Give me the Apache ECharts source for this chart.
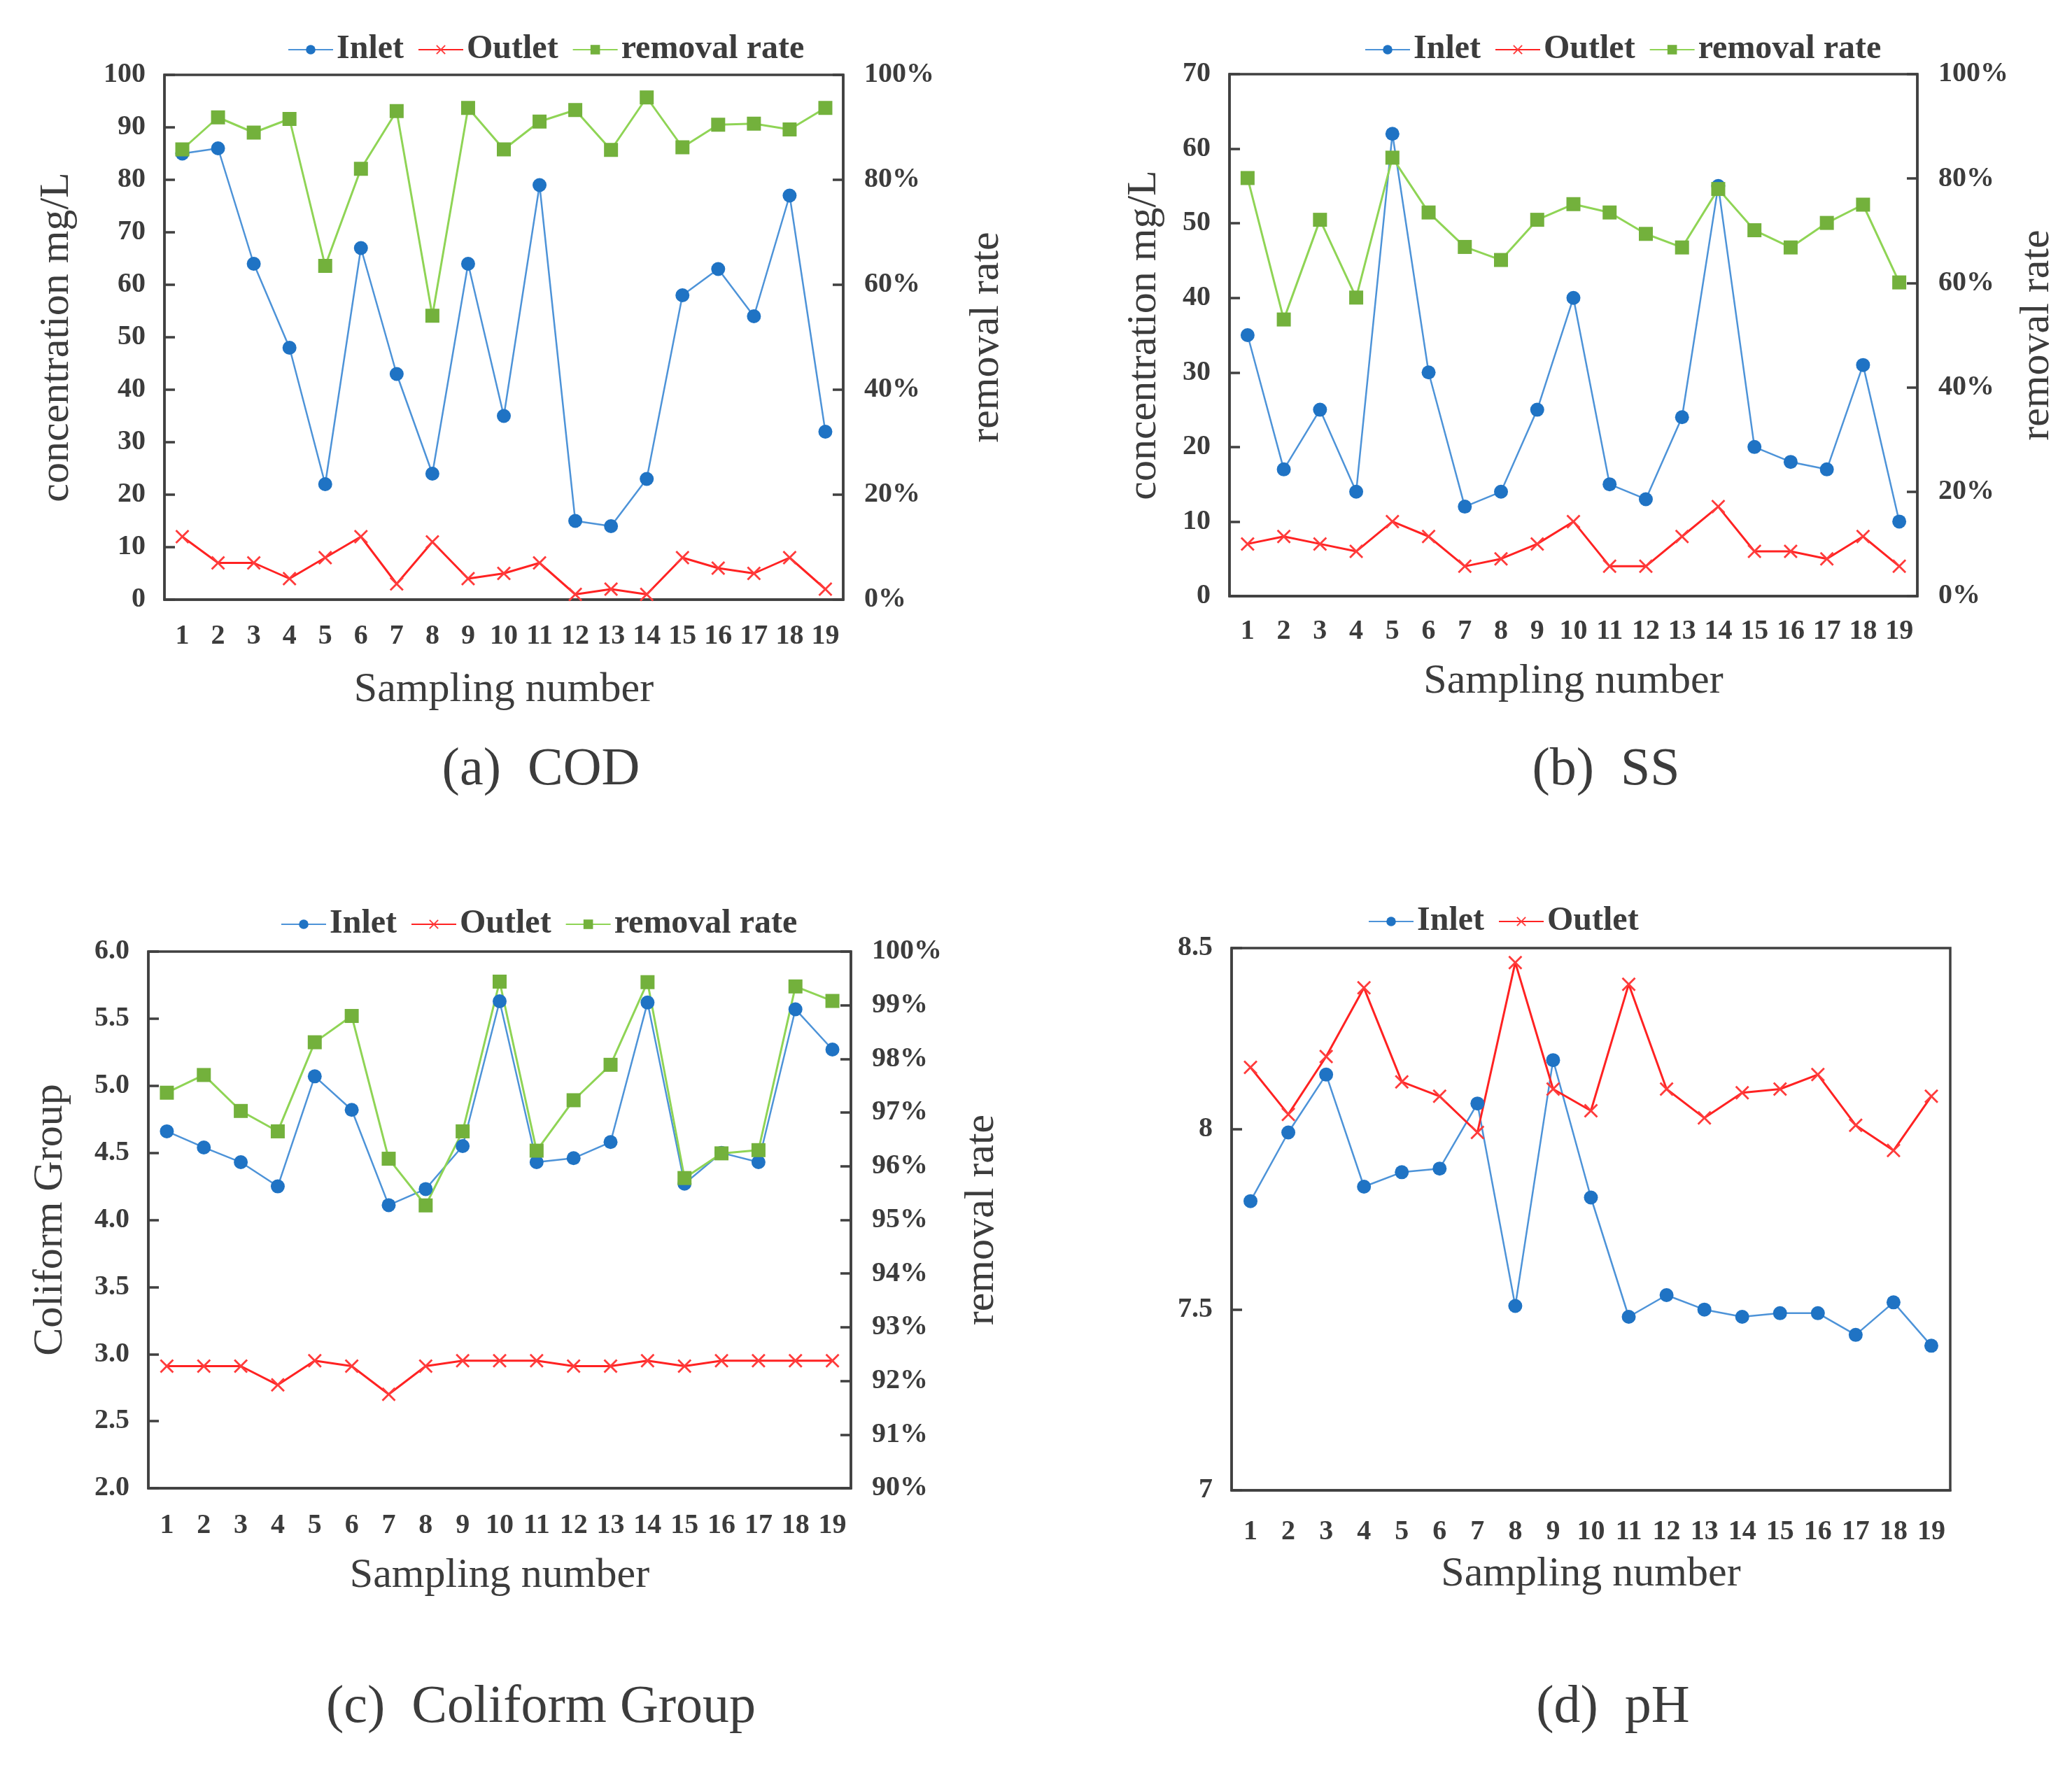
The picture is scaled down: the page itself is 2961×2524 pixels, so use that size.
<!DOCTYPE html>
<html>
<head>
<meta charset="utf-8">
<script src="https://cdn.jsdelivr.net/npm/echarts@6/dist/echarts.min.js"></script>
<style>
    html, body { margin: 0; padding: 0; background: #fff; }
    #my_chart { width: 2961px; height: 2524px; }
</style>
</head>
<body>
<div id="my_chart"></div>
<script>
// sampling numbers
var categories = ['1', '2', '3', '4', '5', '6', '7', '8', '9', '10', '11', '12', '13', '14', '15', '16', '17', '18', '19'];

// (a) COD
var codInlet = [85, 86, 64, 48, 22, 67, 43, 24, 64, 35, 79, 15, 14, 23, 58, 63, 54, 77, 32];
var codOutlet = [12, 7, 7, 4, 8, 12, 3, 11, 4, 5, 7, 1, 2, 1, 8, 6, 5, 8, 2];
var codRate = [85.8, 91.9, 89.0, 91.6, 63.6, 82.1, 93.1, 54.1, 93.7, 85.8, 91.1, 93.3, 85.7, 95.7, 86.2, 90.5, 90.7, 89.6, 93.7];

// (b) SS
var ssInlet = [35, 17, 25, 14, 62, 30, 12, 14, 25, 40, 15, 13, 24, 55, 20, 18, 17, 31, 10];
var ssOutlet = [7, 8, 7, 6, 10, 8, 4, 5, 7, 10, 4, 4, 8, 12, 6, 6, 5, 8, 4];
var ssRate = [80.1, 53.0, 72.1, 57.2, 84.0, 73.5, 66.9, 64.4, 72.1, 75.1, 73.5, 69.4, 66.8, 78.0, 70.1, 66.8, 71.5, 75.0, 60.1];

// (c) Coliform Group
var coliInlet = [4.66, 4.54, 4.43, 4.25, 5.07, 4.82, 4.11, 4.23, 4.55, 5.63, 4.43, 4.46, 4.58, 5.62, 4.27, 4.50, 4.43, 5.57, 5.27];
var coliOutlet = [2.91, 2.91, 2.91, 2.77, 2.95, 2.91, 2.70, 2.91, 2.95, 2.95, 2.95, 2.91, 2.91, 2.95, 2.91, 2.95, 2.95, 2.95, 2.95];
var coliRate = [97.37, 97.70, 97.03, 96.65, 98.31, 98.80, 96.14, 95.27, 96.65, 99.44, 96.29, 97.23, 97.89, 99.43, 95.78, 96.24, 96.30, 99.35, 99.08];

// (d) pH
var phInlet = [7.80, 7.99, 8.15, 7.84, 7.88, 7.89, 8.07, 7.51, 8.19, 7.81, 7.48, 7.54, 7.50, 7.48, 7.49, 7.49, 7.43, 7.52, 7.40];
var phOutlet = [8.17, 8.04, 8.20, 8.39, 8.13, 8.09, 7.99, 8.46, 8.11, 8.05, 8.40, 8.11, 8.03, 8.10, 8.11, 8.15, 8.01, 7.94, 8.09];

var FONT = 'Liberation Serif';
var AXIS_COLOR = '#404040';
var TEXT_COLOR = '#3c3c3c';
var X_SYMBOL = 'path://M1,0L5,4L9,0L10,1L6,5L10,9L9,10L5,6L1,10L0,9L4,5L0,1Z';

function xAxisOf(grid, labelMargin, nameGap) {
    return {
        type: 'category',
        gridIndex: grid,
        data: categories,
        boundaryGap: true,
        name: 'Sampling number',
        nameLocation: 'middle',
        nameGap: nameGap,
        nameTextStyle: {fontFamily: FONT, fontSize: 60, color: TEXT_COLOR},
        axisLine: {lineStyle: {color: AXIS_COLOR, width: 3.5}},
        axisTick: {inside: true, length: 15, lineStyle: {color: AXIS_COLOR, width: 3.5}},
        axisLabel: {margin: labelMargin, interval: 0, fontFamily: FONT, fontSize: 40, fontWeight: 'bold', color: TEXT_COLOR},
        splitLine: {show: false}
    };
}

function yAxisOf(grid, pos, min, max, interval, name, nameGap, formatter) {
    return {
        type: 'value',
        gridIndex: grid,
        position: pos,
        min: min,
        max: max,
        interval: interval,
        name: name,
        nameLocation: 'middle',
        nameRotate: 90,
        nameGap: nameGap,
        nameTextStyle: {fontFamily: FONT, fontSize: 60, color: TEXT_COLOR},
        axisLine: {show: true, lineStyle: {color: AXIS_COLOR, width: 3.5}},
        axisTick: {show: true, inside: true, length: 15, lineStyle: {color: AXIS_COLOR, width: 3.5}},
        axisLabel: {margin: pos == 'left' ? 27 : 30, fontFamily: FONT, fontSize: 40, fontWeight: 'bold', color: TEXT_COLOR, formatter: formatter},
        splitLine: {show: false}
    };
}

function inletSeries(x, y, data) {
    return {
        type: 'line', name: 'Inlet', xAxisIndex: x, yAxisIndex: y, data: data,
        symbol: 'circle', symbolSize: 20,
        lineStyle: {color: '#4d93d8', width: 2.5},
        itemStyle: {color: '#1f73c4'}
    };
}

function outletSeries(x, y, data) {
    return {
        type: 'line', name: 'Outlet', xAxisIndex: x, yAxisIndex: y, data: data,
        symbol: X_SYMBOL, symbolSize: 20,
        lineStyle: {color: '#ff2222', width: 3},
        itemStyle: {color: '#ff3b3b'}
    };
}

function rateSeries(x, y, data) {
    return {
        type: 'line', name: 'removal rate', xAxisIndex: x, yAxisIndex: y, data: data,
        symbol: 'rect', symbolSize: 20,
        lineStyle: {color: '#8fd455', width: 3},
        itemStyle: {color: '#73b13c'}
    };
}

function legendOf(left, top, names) {
    return {
        left: left, top: top, orient: 'horizontal',
        itemWidth: 64, itemHeight: 17, itemGap: 20,
        data: names,
        textStyle: {fontFamily: FONT, fontSize: 48, fontWeight: 'bold', color: TEXT_COLOR}
    };
}

function captionOf(text, left, top) {
    return {
        text: text, left: left, top: top, textAlign: 'center',
        textStyle: {fontFamily: FONT, fontSize: 76, fontWeight: 'normal', color: TEXT_COLOR}
    };
}

function gridOf(left, top, width, height) {
    return {
        left: left, top: top, width: width, height: height,
        show: true, borderColor: AXIS_COLOR, borderWidth: 3.5, backgroundColor: 'transparent'
    };
}

var pct = '{value}%';
var oneDec = function (v) { return v.toFixed(1); };

var option = {
    backgroundColor: '#fff',
    animation: false,
    title: [
        captionOf('(a)  COD', 768, 1058),
        captionOf('(b)  SS', 2290, 1058),
        captionOf('(c)  Coliform Group', 768, 2398),
        captionOf('(d)  pH', 2300, 2398)
    ],
    legend: [
        legendOf(406, 42, ['Inlet', 'Outlet', 'removal rate']),
        legendOf(1945, 42, ['Inlet', 'Outlet', 'removal rate']),
        legendOf(396, 1292, ['Inlet', 'Outlet', 'removal rate']),
        legendOf(1950, 1288, ['Inlet', 'Outlet'])
    ],
    grid: [
        gridOf(235, 107, 970, 750),
        gridOf(1757, 106, 983, 746),
        gridOf(212, 1360, 1004, 767),
        gridOf(1760, 1355, 1027, 775)
    ],
    xAxis: [
        xAxisOf(0, 33, 99),
        xAxisOf(1, 31, 92),
        xAxisOf(2, 34, 95),
        xAxisOf(3, 40, 90)
    ],
    yAxis: [
        yAxisOf(0, 'left', 0, 100, 10, 'concentration mg/L', 124),
        yAxisOf(0, 'right', 0, 100, 20, 'removal rate', 175, pct),
        yAxisOf(1, 'left', 0, 70, 10, 'concentration mg/L', 92),
        yAxisOf(1, 'right', 0, 100, 20, 'removal rate', 141, pct),
        yAxisOf(2, 'left', 2, 6, 0.5, 'Coliform Group', 110, oneDec),
        yAxisOf(2, 'right', 90, 100, 1, 'removal rate', 157, pct),
        yAxisOf(3, 'left', 7, 8.5, 0.5, '', 0)
    ],
    series: [
        inletSeries(0, 0, codInlet),
        outletSeries(0, 0, codOutlet),
        rateSeries(0, 1, codRate),
        inletSeries(1, 2, ssInlet),
        outletSeries(1, 2, ssOutlet),
        rateSeries(1, 3, ssRate),
        inletSeries(2, 4, coliInlet),
        outletSeries(2, 4, coliOutlet),
        rateSeries(2, 5, coliRate),
        inletSeries(3, 6, phInlet),
        outletSeries(3, 6, phOutlet)
    ]
};

var myChart = echarts.init(document.getElementById('my_chart'));
myChart.setOption(option);
</script>
</body>
</html>
